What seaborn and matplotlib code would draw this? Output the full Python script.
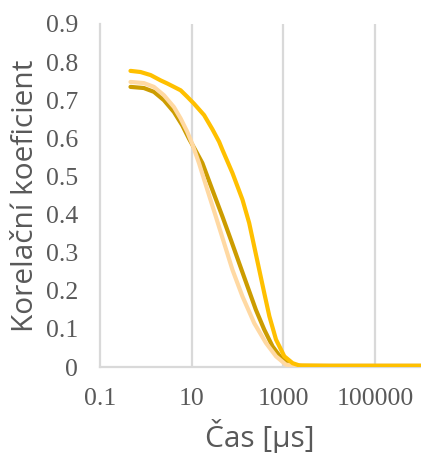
import matplotlib
matplotlib.use("Agg")
import matplotlib.pyplot as plt
import seaborn as sns
import pandas as pd

# ---- data ----
x_dark = [0.462, 0.904, 1.50, 2.48, 4.10, 6.23, 8.73, 12.4, 17.1, 28.2, 46.7, 71.3, 108, 165, 251, 382, 580, 886, 1346, 2500, 1e4, 1e5, 1e6]
y_dark = [0.735, 0.732, 0.722, 0.700, 0.669, 0.634, 0.599, 0.566, 0.535, 0.465, 0.395, 0.334, 0.273, 0.211, 0.150, 0.098, 0.054, 0.024, 0.006, 0.003, 0.003, 0.003, 0.003]

x_peach = [0.462, 0.904, 1.50, 2.48, 4.10, 5.74, 8.0, 10.3, 14.4, 21.9, 33.5, 50.9, 77.3, 128, 231, 416, 689, 1140, 2500, 1e4, 1e5, 1e6]
y_peach = [0.748, 0.745, 0.735, 0.713, 0.682, 0.652, 0.617, 0.585, 0.535, 0.465, 0.395, 0.325, 0.255, 0.185, 0.115, 0.063, 0.028, 0.006, 0.003, 0.003, 0.003, 0.003]

x_yellow = [0.462, 0.766, 1.27, 2.10, 2.92, 4.10, 5.74, 8.0, 11.2, 18.6, 28.2, 39.6, 46.7, 77.3, 128, 179, 231, 297, 382, 494, 689, 1047, 1590, 2230, 1e4, 1e5, 1e6]
y_yellow = [0.777, 0.774, 0.766, 0.752, 0.744, 0.735, 0.726, 0.709, 0.691, 0.661, 0.624, 0.591, 0.570, 0.509, 0.439, 0.378, 0.316, 0.255, 0.194, 0.133, 0.072, 0.028, 0.010, 0.004, 0.003, 0.003, 0.003]

series_names = ["s1", "s2", "s3"]
colors = ["#CC9C00", "#FFD9A3", "#FFC000"]

x_ticks = [0.1, 10, 1000, 100000]
x_tick_labels = ["0.1", "10", "1000", "100000"]
y_ticks = [0, 0.1, 0.2, 0.3, 0.4, 0.5, 0.6, 0.7, 0.8, 0.9]
y_tick_labels = ["0", "0.1", "0.2", "0.3", "0.4", "0.5", "0.6", "0.7", "0.8", "0.9"]

df = pd.concat([
    pd.DataFrame({"t": x_dark, "r": y_dark, "s": series_names[0]}),
    pd.DataFrame({"t": x_peach, "r": y_peach, "s": series_names[1]}),
    pd.DataFrame({"t": x_yellow, "r": y_yellow, "s": series_names[2]}),
], ignore_index=True)

sns.set_style("white")
W, H = 421, 453
fig = plt.figure(figsize=(W / 100, H / 100), dpi=100)
ax = fig.add_axes([100 / W, (H - 367) / H, (W - 100) / W, (367 - 24) / H])

sns.lineplot(data=df, x="t", y="r", hue="s", palette=dict(zip(series_names, colors)),
             linewidth=3.0, ax=ax, legend=False, sort=False, estimator=None)
for ln in ax.get_lines():
    ln.set_solid_joinstyle("round")
    ln.set_solid_capstyle("round")

ax.set_xscale("log")
ax.set_xlim(0.1, 1e6)
ax.set_ylim(0, 0.9)
ax.set_xticks(x_ticks)
ax.set_xticklabels(x_tick_labels)
ax.set_yticks(y_ticks)
ax.set_yticklabels(y_tick_labels)
ax.xaxis.set_minor_locator(matplotlib.ticker.NullLocator())

grid_c = "#D9D9D9"
ax.grid(False)
for xv in x_ticks[1:]:
    ax.axvline(xv, color=grid_c, lw=1.6, zorder=0)
for side in ["top", "right"]:
    ax.spines[side].set_visible(False)
for side in ["left", "bottom"]:
    ax.spines[side].set_color(grid_c)
    ax.spines[side].set_linewidth(1.6)
    ax.spines[side].set_zorder(0)

ax.tick_params(axis="both", length=0, labelcolor="#595959")
ax.tick_params(axis="x", pad=15)
ax.tick_params(axis="y", pad=16)
for lab in ax.get_xticklabels() + ax.get_yticklabels():
    lab.set_family("Liberation Serif")
    lab.set_fontsize(18.5)

ax.set_xlabel("Čas [µs]", family="Open Sans", fontsize=21.5, color="#595959")
ax.set_ylabel("Korelační koeficient", family="Open Sans", fontsize=21.5, color="#595959")
ax.xaxis.label.set_va("baseline")
ax.xaxis.set_label_coords((260 - 100) / 321, (367 - 447) / 343)
ax.yaxis.label.set_va("center")
ax.yaxis.set_label_coords((26 - 100) / 321, 0.5)

fig.savefig("out.png", dpi=100)
